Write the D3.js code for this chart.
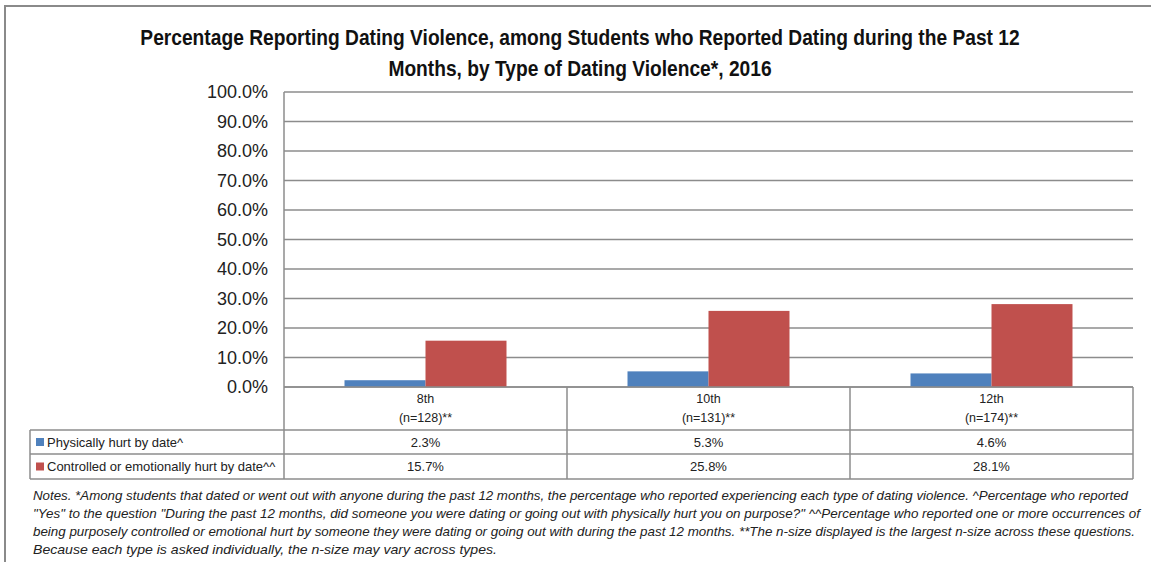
<!DOCTYPE html>
<html>
<head>
<meta charset="utf-8">
<script src="https://cdn.jsdelivr.net/npm/d3@7"></script>
<style>
  body { margin: 0; background: #fff; }
  svg { display: block; font-family: "Liberation Sans", Arial, sans-serif; }
</style>
</head>
<body>
<div id="chart"></div>
<script>

// chart data
var grades = ["8th", "10th", "12th"];
var nSizes = ["(n=128)**", "(n=131)**", "(n=174)**"];
var seriesNames = ["Physically hurt by date^", "Controlled or emotionally hurt by date^^"];
var physical = [2.3, 5.3, 4.6];
var controlled = [15.7, 25.8, 28.1];
var seriesColors = ["#4F81BD", "#C0504D"];
var titleLines = [
	"Percentage Reporting Dating Violence, among Students who Reported Dating during the Past 12",
	"Months, by Type of Dating Violence*, 2016"
];
var noteLines = [
	"Notes. *Among students that dated or went out with anyone during the past 12 months, the percentage who reported  experiencing each type of dating violence. ^Percentage who reported",
	"\"Yes\" to the question \"During the past 12 months, did someone you were dating or going out with physically hurt you on purpose?\" ^^Percentage who reported one or more occurrences of",
	"being purposely controlled or emotional hurt by someone they were dating or going out with during the past 12 months. **The n-size displayed is the largest n-size across these questions.",
	"Because each type is asked individually, the n-size may vary across types."
];
var noteWidths = [1095, 1107, 1102, 464];

var series = [physical, controlled];

var width = 1151, height = 562;
var margin = { top: 92, left: 284, right: 18 };
var plotBottom = 387;

var svg = d3.select("#chart").append("svg")
	.attr("width", width)
	.attr("height", height);

// outer frame (only top and left visible)
svg.append("path")
	.attr("d", "M5,562 L5,6 L1151,6")
	.attr("fill", "none")
	.attr("stroke", "#8a8a8a")
	.attr("stroke-width", 2);

// title (source text is a bit stretched vertically)
svg.append("g").selectAll("text")
	.data(titleLines)
	.enter().append("text")
	.attr("transform", function (d, i) { return "translate(580," + (45 + i * 31) + ") scale(1,1.12)"; })
	.attr("text-anchor", "middle")
	.attr("font-size", 19.2)
	.attr("font-weight", "bold")
	.attr("fill", "#111")
	.text(function (d) { return d; });

// scales
var x = d3.scaleBand()
	.domain(grades)
	.range([margin.left, width - margin.right])
	.padding(0);

var xInner = d3.scaleBand()
	.domain([0, 1])
	.range([0, x.bandwidth()])
	.paddingInner(0)
	.paddingOuter(0.747);

var y = d3.scaleLinear()
	.domain([0, 100])
	.range([plotBottom, margin.top]);

// gridlines
svg.append("g").selectAll("line")
	.data(y.ticks(10))
	.enter().append("line")
	.attr("x1", margin.left)
	.attr("x2", width - margin.right)
	.attr("y1", function (d) { return y(d); })
	.attr("y2", function (d) { return y(d); })
	.attr("stroke", "#8c8c8c")
	.attr("stroke-width", 1.5);

// y axis labels
var yAxis = d3.axisLeft(y)
	.ticks(10)
	.tickSize(0)
	.tickPadding(16)
	.tickFormat(function (d) { return d.toFixed(1) + "%"; });

var yG = svg.append("g")
	.attr("transform", "translate(" + margin.left + ",0)")
	.call(yAxis);
yG.select(".domain").remove();
yG.selectAll("text")
	.attr("font-size", 18)
	.attr("font-family", "Liberation Sans, Arial, sans-serif")
	.attr("fill", "#222");

// bars
series.forEach(function (vals, s) {
	svg.append("g").selectAll("rect")
		.data(vals)
		.enter().append("rect")
		.attr("x", function (d, i) { return x(grades[i]) + xInner(s); })
		.attr("width", xInner.bandwidth())
		.attr("y", function (d) { return y(d); })
		.attr("height", function (d) { return y(0) - y(d); })
		.attr("fill", seriesColors[s]);
});

// data table
var rowTop = [plotBottom, 430, 454, 479];
var tableLeft = 30;
var grid = svg.append("g")
	.attr("stroke", "#8c8c8c")
	.attr("stroke-width", 1.5);

// horizontal table lines
grid.append("line").attr("x1", margin.left).attr("x2", width - margin.right)
	.attr("y1", rowTop[0]).attr("y2", rowTop[0]);
[1, 2, 3].forEach(function (r) {
	grid.append("line").attr("x1", tableLeft).attr("x2", width - margin.right)
		.attr("y1", rowTop[r]).attr("y2", rowTop[r]);
});
// vertical table lines
grid.append("line").attr("x1", tableLeft).attr("x2", tableLeft)
	.attr("y1", rowTop[1]).attr("y2", rowTop[3]);
grid.append("line").attr("x1", margin.left).attr("x2", margin.left)
	.attr("y1", margin.top).attr("y2", rowTop[3]);
grades.forEach(function (g) {
	var xr = x(g) + x.bandwidth();
	grid.append("line").attr("x1", xr).attr("x2", xr)
		.attr("y1", rowTop[0]).attr("y2", rowTop[3]);
});

// category header cells
var head = svg.append("g").selectAll("g")
	.data(grades)
	.enter().append("g")
	.attr("transform", function (d) { return "translate(" + (x(d) + x.bandwidth() / 2) + ",0)"; });
head.append("text")
	.attr("y", 403)
	.attr("text-anchor", "middle")
	.attr("font-size", 12.5)
	.attr("fill", "#222")
	.text(function (d) { return d; });
head.append("text")
	.attr("y", 422)
	.attr("text-anchor", "middle")
	.attr("font-size", 12.5)
	.attr("fill", "#222")
	.text(function (d, i) { return nSizes[i]; });

// series rows
series.forEach(function (vals, s) {
	var mid = (rowTop[s + 1] + rowTop[s + 2]) / 2;
	svg.append("rect")
		.attr("x", 36)
		.attr("y", mid - 4)
		.attr("width", 8)
		.attr("height", 8)
		.attr("fill", seriesColors[s]);
	svg.append("text")
		.attr("x", 47)
		.attr("y", mid + 4.5)
		.attr("font-size", 13)
		.attr("fill", "#222")
		.text(seriesNames[s]);
	svg.append("g").selectAll("text")
		.data(vals)
		.enter().append("text")
		.attr("x", function (d, i) { return x(grades[i]) + x.bandwidth() / 2; })
		.attr("y", mid + 4.5)
		.attr("text-anchor", "middle")
		.attr("font-size", 13)
		.attr("fill", "#222")
		.text(function (d) { return d.toFixed(1) + "%"; });
});

// notes
svg.append("g").selectAll("text")
	.data(noteLines)
	.enter().append("text")
	.attr("x", 33)
	.attr("y", function (d, i) { return 500 + i * 18; })
	.attr("font-size", 13)
	.attr("font-style", "italic")
	.attr("fill", "#222")
	.attr("textLength", function (d, i) { return noteWidths[i]; })
	.attr("lengthAdjust", "spacingAndGlyphs")
	.text(function (d) { return d; });

</script>
</body>
</html>
